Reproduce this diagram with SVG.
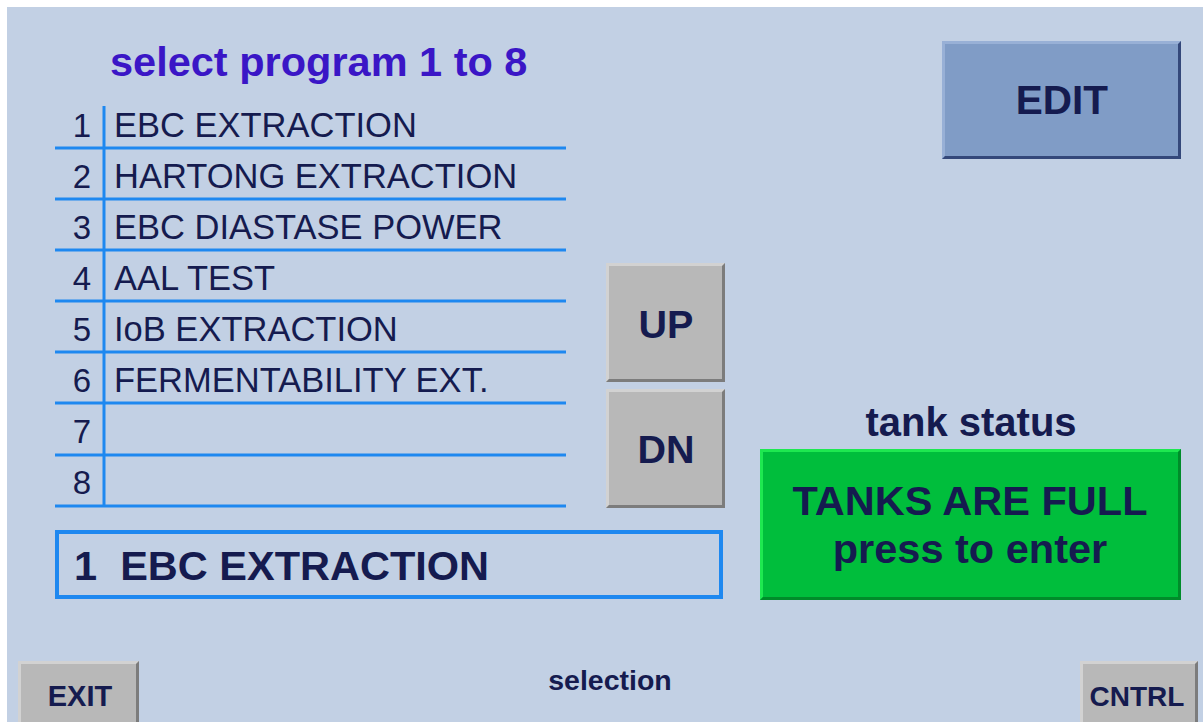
<svg xmlns="http://www.w3.org/2000/svg" width="1203" height="722" viewBox="0 0 1203 722">
<defs>
<style>
.t{font-family:"Liberation Sans",Arial,sans-serif;fill:#151b4f}
.b{font-weight:bold}
.row{font-size:34.5px}
.num{font-size:33px;text-anchor:end}
.ln{stroke:#1e88f0;stroke-width:3}
.c{text-anchor:middle}
</style>
</defs>
<rect x="0" y="0" width="1203" height="722" fill="#ffffff"/>
<rect x="7" y="7" width="1196" height="715" fill="#c2d0e4"/>

<g id="title"><text class="t b" x="110" y="76" font-size="41.5" style="fill:#3a16c6">select program 1 to 8</text></g>

<g id="list">
<line class="ln" x1="104" y1="106" x2="104" y2="506"/>
<line class="ln" x1="55" y1="148" x2="566" y2="148"/>
<line class="ln" x1="55" y1="199" x2="566" y2="199"/>
<line class="ln" x1="55" y1="250" x2="566" y2="250"/>
<line class="ln" x1="55" y1="301" x2="566" y2="301"/>
<line class="ln" x1="55" y1="352" x2="566" y2="352"/>
<line class="ln" x1="55" y1="403" x2="566" y2="403"/>
<line class="ln" x1="55" y1="455" x2="566" y2="455"/>
<line class="ln" x1="55" y1="506" x2="566" y2="506"/>
<text class="t num" x="91" y="137">1</text>
<text class="t num" x="91" y="188">2</text>
<text class="t num" x="91" y="239">3</text>
<text class="t num" x="91" y="290">4</text>
<text class="t num" x="91" y="341">5</text>
<text class="t num" x="91" y="392">6</text>
<text class="t num" x="91" y="443">7</text>
<text class="t num" x="91" y="494">8</text>
<text class="t row" x="114" y="137">EBC EXTRACTION</text>
<text class="t row" x="114" y="188">HARTONG EXTRACTION</text>
<text class="t row" x="114" y="239">EBC DIASTASE POWER</text>
<text class="t row" x="114" y="290">AAL TEST</text>
<text class="t row" x="114" y="341">IoB EXTRACTION</text>
<text class="t row" x="114" y="392">FERMENTABILITY EXT.</text>
</g>

<g id="btn-up">
<rect x="606" y="263" width="119" height="119" fill="#b8b8b8"/>
<polygon points="606,263 725,263 722,266 609,266 609,379 606,382" fill="#d2d2d2"/>
<polygon points="725,263 725,382 606,382 609,379 722,379 722,266" fill="#7c7c7c"/>
<text class="t b c" x="666" y="338" font-size="39.5">UP</text>
</g>

<g id="btn-dn">
<rect x="606" y="389" width="119" height="119" fill="#b8b8b8"/>
<polygon points="606,389 725,389 722,392 609,392 609,505 606,508" fill="#d2d2d2"/>
<polygon points="725,389 725,508 606,508 609,505 722,505 722,392" fill="#7c7c7c"/>
<text class="t b c" x="666" y="463" font-size="39.5">DN</text>
</g>

<g id="selected">
<rect x="57" y="532" width="664" height="65" fill="none" stroke="#1e88f0" stroke-width="4"/>
<text class="t b" x="74" y="580" font-size="41.5" xml:space="preserve">1  EBC EXTRACTION</text>
</g>

<g id="tank-status-label"><text class="t b c" x="971" y="436" font-size="40">tank status</text></g>

<g id="btn-tanks">
<rect x="760" y="449" width="421" height="151" fill="#00be3c"/>
<polygon points="760,449 1181,449 1178,452 763,452 763,597 760,600" fill="#1ee850"/>
<polygon points="1181,449 1181,600 760,600 763,597 1178,597 1178,452" fill="#008c2a"/>
<text class="t b c" x="970" y="515" font-size="41.5">TANKS ARE FULL</text>
<text class="t b c" x="970" y="563" font-size="41.5">press to enter</text>
</g>

<g id="btn-edit">
<rect x="942" y="41" width="239" height="118" fill="#809cc6"/>
<polygon points="942,41 1181,41 1178,44 945,44 945,156 942,159" fill="#98b0d6"/>
<polygon points="1181,41 1181,159 942,159 945,156 1178,156 1178,44" fill="#34487a"/>
<text class="t b c" x="1062" y="114" font-size="40.5">EDIT</text>
</g>

<g id="btn-exit">
<rect x="18" y="661" width="121" height="61" fill="#b8b8b8"/>
<polygon points="18,661 139,661 136,664 21,664 21,722 18,722" fill="#d2d2d2"/>
<polygon points="139,661 139,722 136,722 136,664" fill="#7c7c7c"/>
<text class="t b c" x="80" y="706" font-size="29">EXIT</text>
</g>

<g id="selection-label"><text class="t b c" x="610" y="690" font-size="28.5">selection</text></g>

<g id="btn-cntrl">
<rect x="1080" y="661" width="118" height="61" fill="#b8b8b8"/>
<polygon points="1080,661 1198,661 1195,664 1083,664 1083,722 1080,722" fill="#d2d2d2"/>
<polygon points="1198,661 1198,722 1195,722 1195,664" fill="#7c7c7c"/>
<text class="t b c" x="1137" y="706" font-size="28">CNTRL</text>
</g>

<g id="connectors"/>
</svg>
